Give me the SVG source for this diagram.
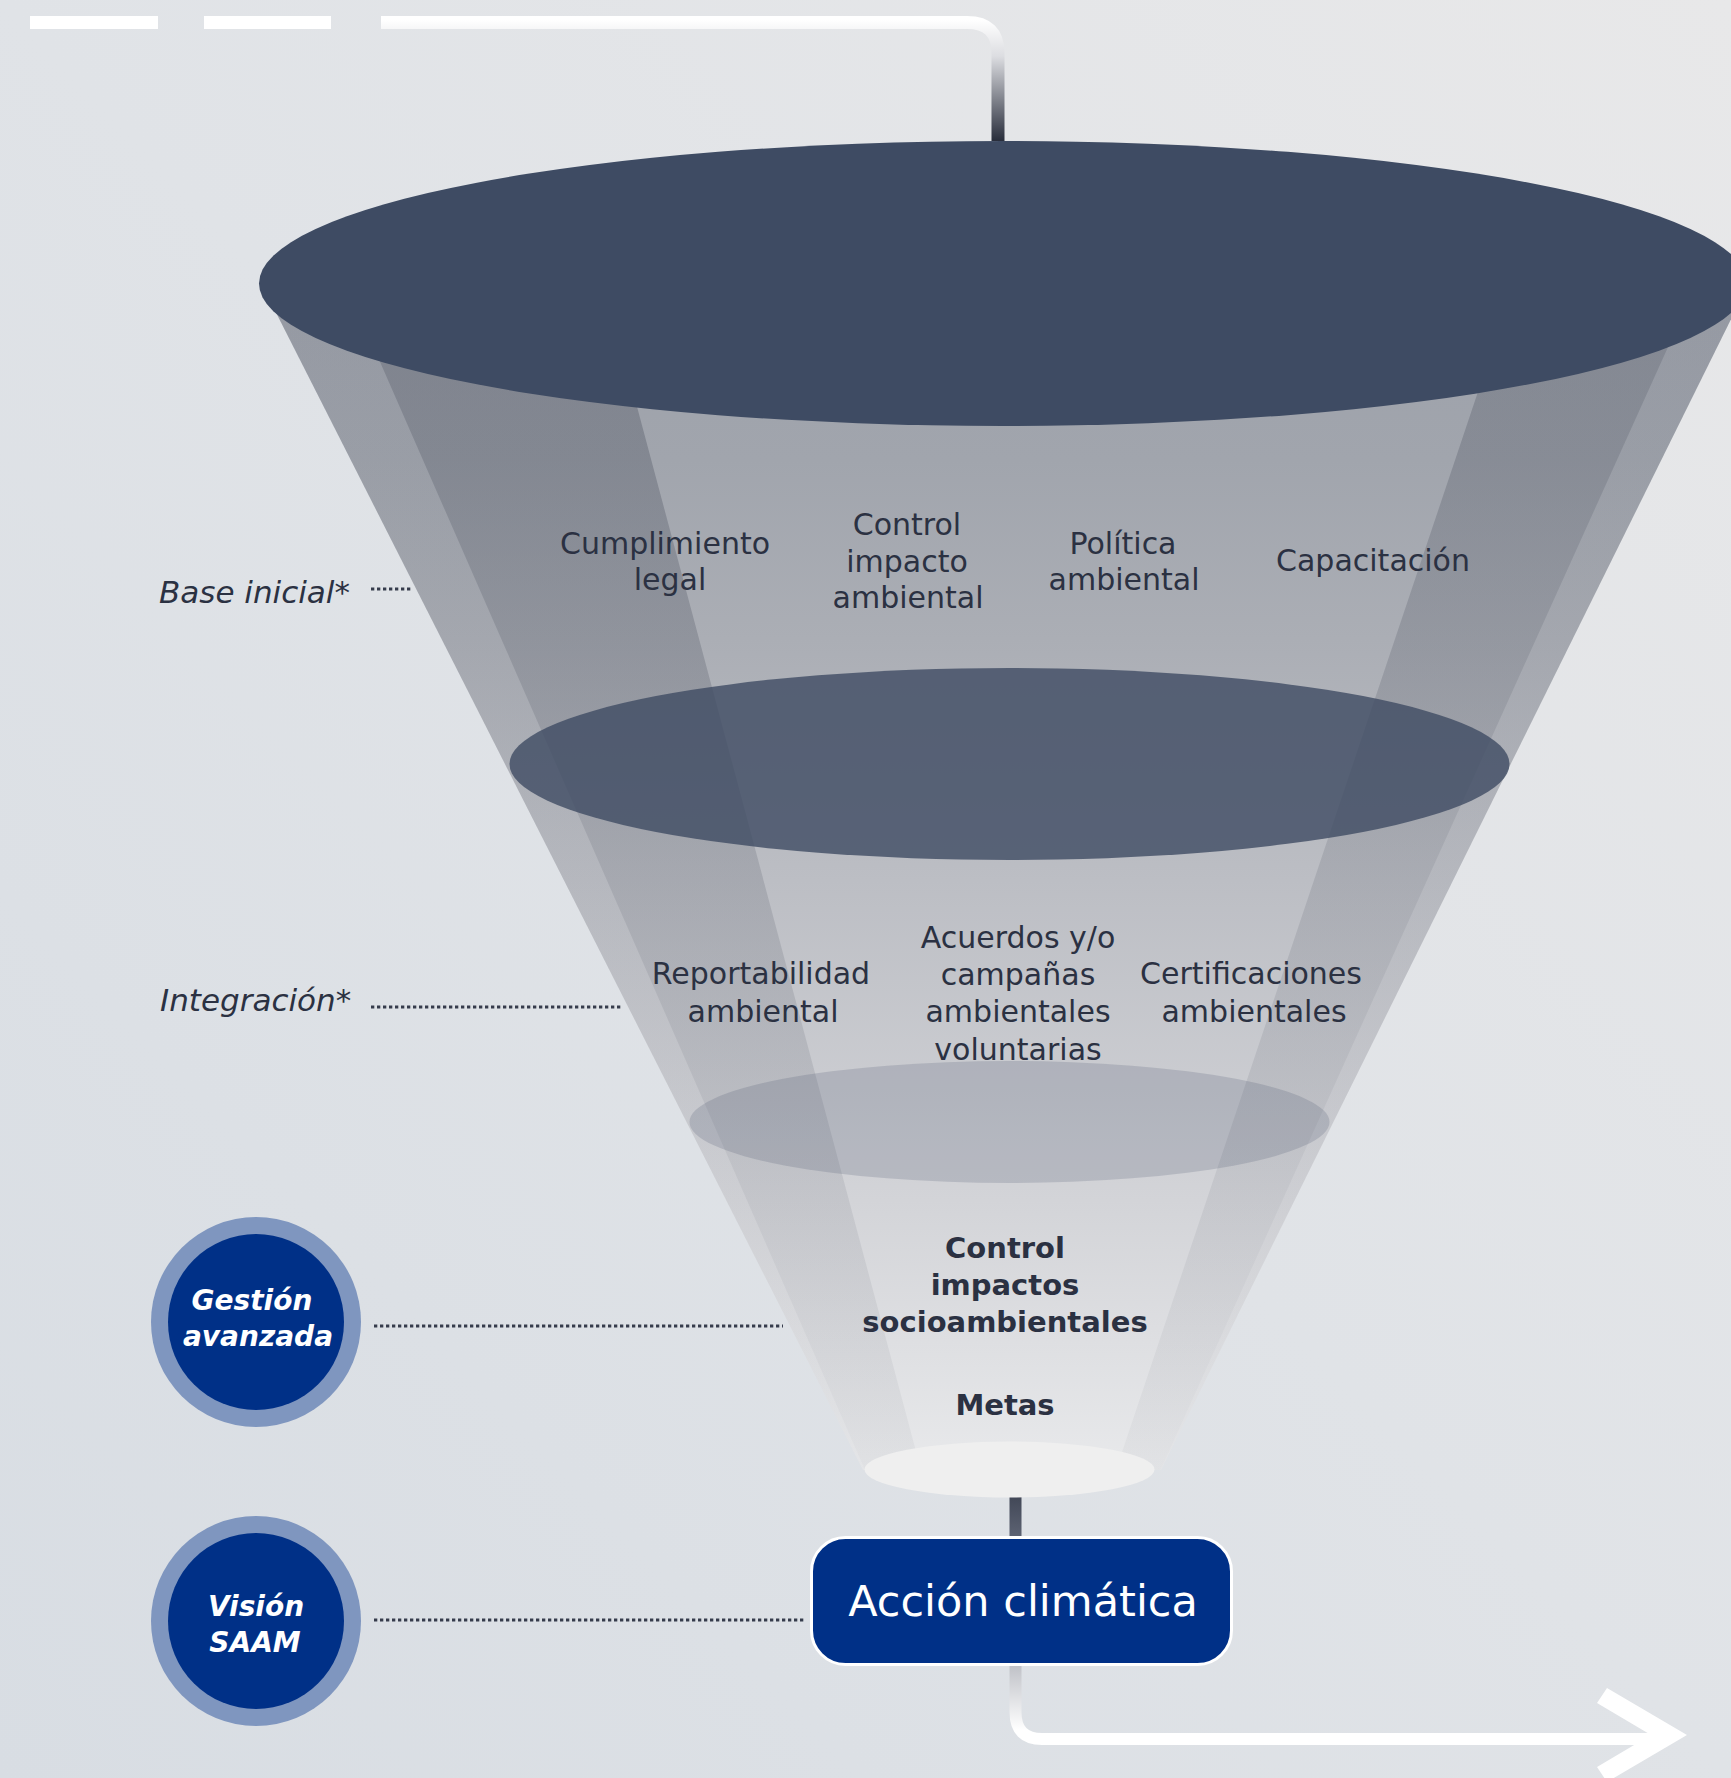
<svg xmlns="http://www.w3.org/2000/svg" width="1731" height="1778" viewBox="0 0 1731 1778">
<defs>
<linearGradient id="bg" x1="0" y1="1" x2="1" y2="0">
<stop offset="0" stop-color="#d8dde3"/>
<stop offset="0.5" stop-color="#e0e3e7"/>
<stop offset="1" stop-color="#e8e8e9"/>
</linearGradient>
<linearGradient id="cone" gradientUnits="userSpaceOnUse" x1="0" y1="283" x2="0" y2="1470">
<stop offset="0" stop-color="#9da1aa"/>
<stop offset="0.149" stop-color="#a1a5ad"/>
<stop offset="0.30" stop-color="#abaeb5"/>
<stop offset="0.503" stop-color="#bcbec4"/>
<stop offset="0.773" stop-color="#d3d4d8"/>
<stop offset="1" stop-color="#e8e9eb"/>
</linearGradient>
<linearGradient id="dark" gradientUnits="userSpaceOnUse" x1="0" y1="283" x2="0" y2="1470">
<stop offset="0" stop-color="#2a3040" stop-opacity="0.27"/>
<stop offset="0.149" stop-color="#2a3040" stop-opacity="0.25"/>
<stop offset="0.503" stop-color="#2a3040" stop-opacity="0.15"/>
<stop offset="1" stop-color="#2a3040" stop-opacity="0.04"/>
</linearGradient>
<linearGradient id="light" gradientUnits="userSpaceOnUse" x1="0" y1="283" x2="0" y2="1470">
<stop offset="0" stop-color="#2a3040" stop-opacity="0.07"/>
<stop offset="1" stop-color="#2a3040" stop-opacity="0.02"/>
</linearGradient>
<linearGradient id="topline" gradientUnits="userSpaceOnUse" x1="0" y1="20" x2="0" y2="141">
<stop offset="0" stop-color="#ffffff"/>
<stop offset="0.3" stop-color="#dcdde1"/>
<stop offset="1" stop-color="#282d3b"/>
</linearGradient>
<linearGradient id="stem" gradientUnits="userSpaceOnUse" x1="0" y1="1473" x2="0" y2="1536">
<stop offset="0" stop-color="#323847"/>
<stop offset="1" stop-color="#5c6272"/>
</linearGradient>
<linearGradient id="outline" gradientUnits="userSpaceOnUse" x1="0" y1="1665" x2="0" y2="1730">
<stop offset="0" stop-color="#bfc1c7"/>
<stop offset="1" stop-color="#ffffff"/>
</linearGradient>
<style>
.t{font-family:"DejaVu Sans","Liberation Sans",sans-serif;font-size:30px;fill:#2b3142;text-anchor:middle}
.b{font-weight:bold;font-size:29px}
.lab{font-family:"DejaVu Sans","Liberation Sans",sans-serif;font-size:31px;font-style:italic;fill:#2b3142}
.ct{font-family:"DejaVu Sans","Liberation Sans",sans-serif;font-size:28px;font-style:italic;font-weight:bold;fill:#ffffff;text-anchor:middle}
.dot{stroke:#363c4c;stroke-width:3;stroke-dasharray:3.3 2.7;fill:none}
</style>
</defs>
<rect x="0" y="0" width="1731" height="1778" fill="url(#bg)"/>

<g id="connectors">
<rect x="30" y="16" width="128" height="13" fill="#ffffff"/>
<rect x="204" y="16" width="127" height="13" fill="#ffffff"/>
<path d="M381,22.5 H967 Q998,22.5 998,53 V141" fill="none" stroke="url(#topline)" stroke-width="13"/>
<rect x="1009.5" y="1473" width="12" height="63" fill="url(#stem)"/>
<path d="M1015.5,1665 V1712 Q1015.5,1739 1042,1739 H1668" fill="none" stroke="url(#outline)" stroke-width="12"/>
<polygon points="1607,1688 1687,1735 1607,1782 1597,1767 1651,1735 1597,1703" fill="#ffffff"/>
<line class="dot" x1="371" y1="589" x2="413" y2="589"/>
<line class="dot" x1="371" y1="1007" x2="622" y2="1007"/>
<line class="dot" x1="374" y1="1326" x2="783" y2="1326"/>
<line class="dot" x1="374" y1="1620" x2="804" y2="1620"/>
</g>

<g id="funnel">
<polygon points="261,283 1749,283 1161,1470 863,1470" fill="url(#cone)"/>
<polygon points="261,283 345.5,283 865,1470 863,1470" fill="url(#light)"/>
<polygon points="1697,283 1749,283 1161,1470 1160.5,1470" fill="url(#light)"/>
<polygon points="345.5,283 604,283 921,1470 865,1470" fill="url(#dark)"/>
<polygon points="1514.5,283 1697,283 1160.5,1470 1116,1470" fill="url(#dark)" opacity="0.85"/>
<ellipse cx="1003" cy="283.5" rx="744" ry="142.5" fill="#3e4b63"/>
<ellipse cx="1009.5" cy="764" rx="500" ry="96" fill="#3e4b63" fill-opacity="0.8"/>
<ellipse cx="1009.5" cy="1122" rx="320" ry="61" fill="#3e4b63" fill-opacity="0.19"/>
<ellipse cx="1009.5" cy="1469.5" rx="145" ry="28" fill="#efefef"/>
</g>

<g id="base-inicial">
<text class="lab" x="159" y="603">Base inicial*</text>
<text class="t" x="665" y="554">Cumplimiento</text>
<text class="t" x="670" y="590">legal</text>
<text class="t" x="907" y="535">Control</text>
<text class="t" x="907" y="572">impacto</text>
<text class="t" x="908" y="608">ambiental</text>
<text class="t" x="1123" y="554">Política</text>
<text class="t" x="1124" y="590">ambiental</text>
<text class="t" x="1373" y="571">Capacitación</text>
</g>

<g id="integracion">
<text class="lab" x="160" y="1011">Integración*</text>
<text class="t" x="761" y="984">Reportabilidad</text>
<text class="t" x="763" y="1022">ambiental</text>
<text class="t" x="1018" y="948">Acuerdos y/o</text>
<text class="t" x="1018" y="985">campañas</text>
<text class="t" x="1018" y="1022">ambientales</text>
<text class="t" x="1018" y="1060">voluntarias</text>
<text class="t" x="1251" y="984">Certificaciones</text>
<text class="t" x="1254" y="1022">ambientales</text>
</g>

<g id="gestion-avanzada">
<circle cx="256" cy="1322" r="105" fill="#7f96bf"/>
<circle cx="256" cy="1322" r="88" fill="#003087"/>
<text class="ct" x="252" y="1310">Gestión</text>
<text class="ct" x="258" y="1346">avanzada</text>
<text class="t b" x="1005" y="1258">Control</text>
<text class="t b" x="1005" y="1295">impactos</text>
<text class="t b" x="1005" y="1332">socioambientales</text>
<text class="t b" x="1005" y="1415">Metas</text>
</g>

<g id="vision-saam">
<circle cx="256" cy="1621" r="105" fill="#7f96bf"/>
<circle cx="256" cy="1621" r="88" fill="#003087"/>
<text class="ct" x="256" y="1616">Visión</text>
<text class="ct" x="255" y="1652">SAAM</text>
</g>

<g id="accion-climatica">
<rect x="811.5" y="1537.5" width="420" height="127" rx="34" fill="#003087" stroke="#ffffff" stroke-width="3"/>
<text x="1023" y="1616" font-family="DejaVu Sans, Liberation Sans, sans-serif" font-size="43" fill="#ffffff" text-anchor="middle">Acción climática</text>
</g>
</svg>
